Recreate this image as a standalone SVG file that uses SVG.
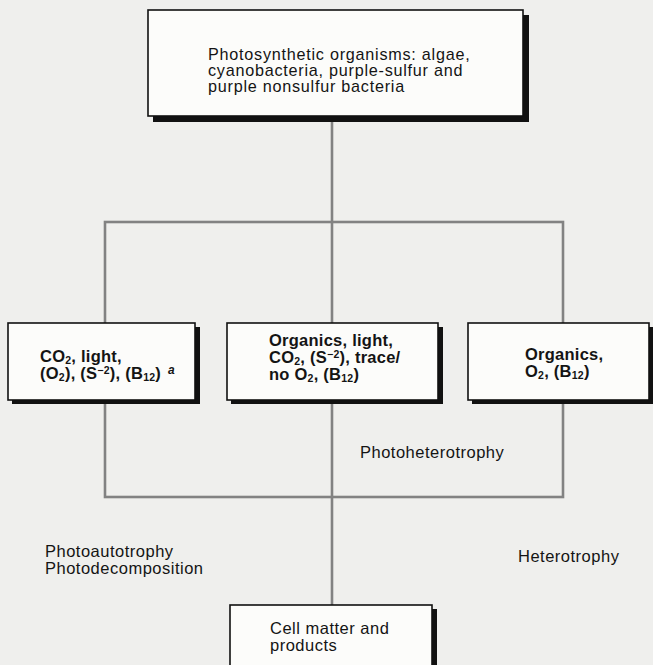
<svg xmlns="http://www.w3.org/2000/svg" width="653" height="665" viewBox="0 0 653 665">
<style>
.bg{fill:#efefed}
.box{fill:#fcfcfa;stroke:#111;stroke-width:1.6}
.shadow{fill:#111}
.conn{stroke:#828282;stroke-width:2.6;fill:none}
.t{font-family:"Liberation Sans",Arial,sans-serif;font-size:16.5px;letter-spacing:0.5px;fill:#141414}
.tt{font-family:"Liberation Sans",Arial,sans-serif;font-size:16.2px;letter-spacing:0.75px;fill:#141414}
.b{font-family:"Liberation Sans",Arial,sans-serif;font-size:16.5px;letter-spacing:0.25px;font-weight:bold;fill:#141414}
.s{font-size:10.5px}
.fn{font-size:12px;font-style:italic}
</style>
<rect class="bg" x="0" y="0" width="653" height="665"/>
<g id="connectors">
<line class="conn" x1="332" y1="116" x2="332" y2="606"/>
<rect class="conn" x="105" y="222" width="458" height="275"/>
</g>
<g id="node-top">
<rect class="shadow" x="153" y="15" width="376" height="107"/>
<rect class="box" x="148" y="10" width="375" height="106"/>
<text class="tt" x="208" y="60">Photosynthetic organisms: algae,<tspan x="208" dy="16.2">cyanobacteria, purple-sulfur and</tspan><tspan x="208" dy="16.2">purple nonsulfur bacteria</tspan></text>
</g>
<g id="node-left">
<rect class="shadow" x="12" y="327" width="188" height="77"/>
<rect class="box" x="8" y="323" width="187" height="77"/>
<text class="b" x="40" y="362">CO<tspan class="s" dy="1.5">2</tspan><tspan dy="-1.5">, light,</tspan><tspan x="40" dy="17">(O</tspan><tspan class="s" dy="1.5">2</tspan><tspan dy="-1.5">), (S</tspan><tspan class="s" dy="-5">−2</tspan><tspan dy="5">), (B</tspan><tspan class="s" dy="1.5">12</tspan><tspan dy="-1.5">)</tspan><tspan class="fn" dx="7" dy="-5">a</tspan></text>
</g>
<g id="node-middle">
<rect class="shadow" x="231" y="327" width="212" height="77"/>
<rect class="box" x="227" y="323" width="211" height="77"/>
<text class="b" x="269" y="346">Organics, light,<tspan x="269" dy="17">CO</tspan><tspan class="s" dy="1.5">2</tspan><tspan dy="-1.5">, (S</tspan><tspan class="s" dy="-5">−2</tspan><tspan dy="5">), trace/</tspan><tspan x="269" dy="17">no O</tspan><tspan class="s" dy="1.5">2</tspan><tspan dy="-1.5">, (B</tspan><tspan class="s" dy="1.5">12</tspan><tspan dy="-1.5">)</tspan></text>
</g>
<g id="node-right">
<rect class="shadow" x="472" y="327" width="181" height="77"/>
<rect class="box" x="468" y="323" width="181" height="77"/>
<text class="b" x="525" y="360">Organics,<tspan x="525" dy="17">O</tspan><tspan class="s" dy="1.5">2</tspan><tspan dy="-1.5">, (B</tspan><tspan class="s" dy="1.5">12</tspan><tspan dy="-1.5">)</tspan></text>
</g>
<g id="node-bottom">
<rect class="shadow" x="234" y="609" width="203" height="70"/>
<rect class="box" x="230" y="605" width="202" height="70"/>
<text class="t" x="270" y="634">Cell matter and<tspan x="270" dy="16.5">products</tspan></text>
</g>
<g id="labels">
<text class="t" x="360" y="458">Photoheterotrophy</text>
<text class="t" x="45" y="557">Photoautotrophy<tspan x="45" dy="17">Photodecomposition</tspan></text>
<text class="t" x="518" y="562">Heterotrophy</text>
</g>
</svg>
